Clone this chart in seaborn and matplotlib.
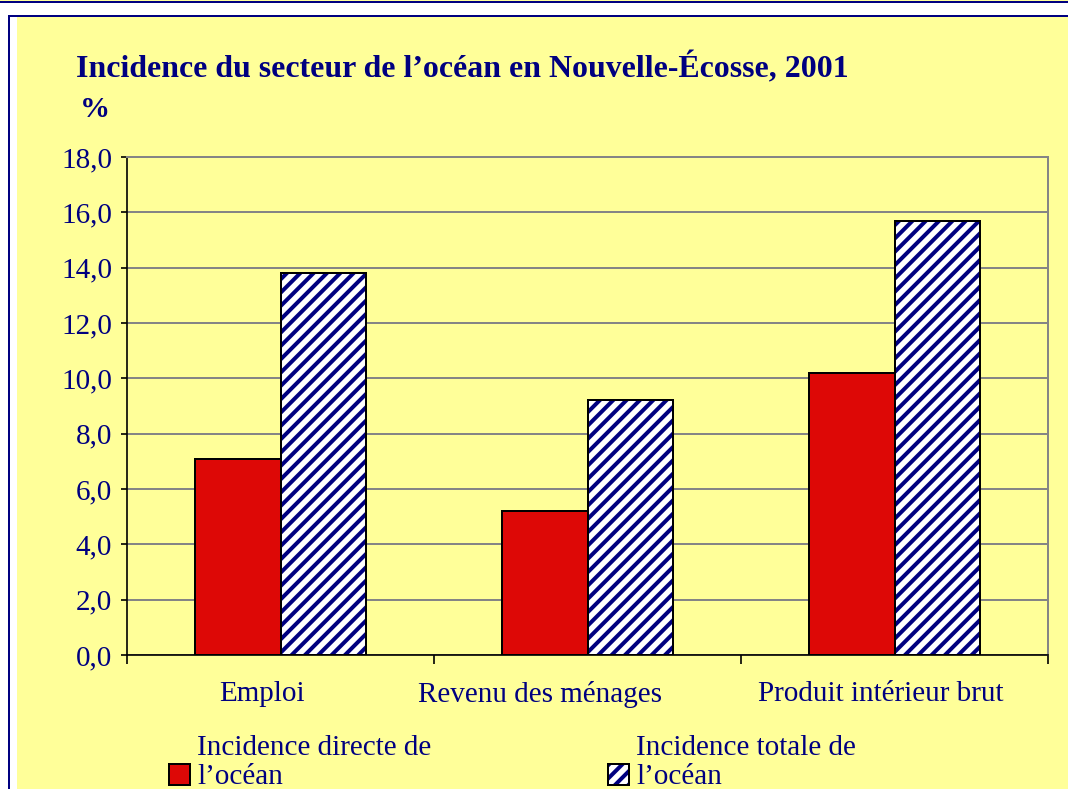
import matplotlib
matplotlib.use("Agg")
import pandas as pd
import matplotlib.pyplot as plt
import matplotlib.colors as mcolors
import matplotlib.transforms as mtransforms
from matplotlib.patches import Rectangle
from matplotlib.lines import Line2D
from matplotlib.ticker import FuncFormatter
from matplotlib.legend_handler import HandlerPatch
import seaborn as sns

# ==============================
# Données
# ==============================
categories = ["Emploi", "Revenu des ménages", "Produit intérieur brut"]
directe = [7.1, 5.2, 10.2]
totale = [13.8, 9.2, 15.7]
series = ["Incidence directe de\nl’océan", "Incidence totale de\nl’océan"]
yticks = [0, 2, 4, 6, 8, 10, 12, 14, 16, 18]

df = pd.DataFrame({
    "categorie": categories * 2,
    "serie": [series[0]] * 3 + [series[1]] * 3,
    "valeur": directe + totale,
})

navy = "#000080"
jaune = "#FFFF99"
rouge = "#DD0806"

sns.set_style("ticks")
plt.rcParams["font.family"] = ["Liberation Serif", "DejaVu Serif"]
plt.rcParams["hatch.linewidth"] = 2.4

W, H = 1068, 789
DPI = 120
fig = plt.figure(figsize=(W / DPI, H / DPI), dpi=DPI, facecolor="white")

# cadre du graphique (fond jaune, bordure bleue)
fig.add_artist(Rectangle((0, 1 - 1.5 / H), 1, 1.5 / H, transform=fig.transFigure,
                         facecolor=jaune, edgecolor="none", zorder=0))
fig.add_artist(Line2D([0, 1], [1 - 2 / H, 1 - 2 / H], transform=fig.transFigure,
                      color=navy, lw=1.2, zorder=0))
fig.add_artist(Rectangle((9 / W, -0.1), 1.2, 1 - 16 / H + 0.1, transform=fig.transFigure,
                         facecolor="white", edgecolor=navy, lw=1.2, zorder=0))
fig.add_artist(Rectangle((17 / W, -0.1), 1.2, 1 - 17 / H + 0.1, transform=fig.transFigure,
                         facecolor=jaune, edgecolor="none", zorder=0))

ax = fig.add_axes([127 / W, 1 - 655 / H, 921 / W, 498 / H])
ax.set_facecolor("none")

sns.barplot(data=df, x="categorie", y="valeur", hue="serie", palette=[rouge, "white"],
            width=0.56, gap=0, edgecolor="black", linewidth=1.2, saturation=1,
            legend=False, ax=ax, zorder=3)

for bar in ax.containers[1]:
    bar.set_hatch("///")
    bar._hatch_color = mcolors.to_rgba(navy)

ax.set_ylim(0, 18)
ax.set_yticks(yticks)
ax.yaxis.set_major_formatter(FuncFormatter(lambda v, p: f"{v:.1f}".replace(".", ",")))
ax.set_axisbelow(True)
ax.yaxis.grid(True, color="#858585", lw=1.2)
ax.set_xlabel("")
ax.set_ylabel("")

for s in ["top", "right"]:
    ax.spines[s].set_color("#858585")
    ax.spines[s].set_linewidth(1.2)
for s in ["left", "bottom"]:
    ax.spines[s].set_color("black")
    ax.spines[s].set_linewidth(1.0)

ax.set_xticks([-0.5, 0.5, 1.5, 2.5], minor=True)
ax.tick_params(axis="x", which="major", length=0, pad=15.5, labelsize=17.5, labelcolor=navy)
ax.tick_params(axis="x", which="minor", length=5.4, width=1, color="black", direction="out")
ax.tick_params(axis="y", length=3.6, width=1, color="black", direction="out", pad=5.4,
               labelsize=17.5, labelcolor=navy)

# décalage des étiquettes de catégorie comme dans l'original (pixels)
decalages = [-18, -48, -14]
for lab, dx in zip(ax.get_xticklabels(), decalages):
    lab.set_transform(lab.get_transform()
                      + mtransforms.ScaledTranslation(dx / DPI, 0, fig.dpi_scale_trans))

# titre
fig.text(76 / W, 1 - 77 / H, "Incidence du secteur de l’océan en Nouvelle-Écosse, 2001",
         fontsize=19.1, fontweight="bold", color=navy, va="baseline")
fig.text(80 / W, 1 - 117 / H, "%", fontsize=18, fontweight="bold", color=navy, va="baseline")


# légende : carré aligné sur la deuxième ligne du texte
def carre_bas(legend, orig_handle, xdescent, ydescent, width, height, fontsize):
    return Rectangle((-xdescent, -ydescent - 7.5), width, height)


handles = [ax.containers[0][0], ax.containers[1][0]]
leg = fig.legend(handles, series, loc="upper left",
                 bbox_to_anchor=(169 / W, 1 - 735 / H), ncol=2, frameon=False,
                 fontsize=17.5, handlelength=0.72, handleheight=0.72, handletextpad=0.25,
                 columnspacing=6.05, borderpad=0, borderaxespad=0, labelcolor=navy,
                 handler_map={Rectangle: HandlerPatch(patch_func=carre_bas)})
for t in leg.get_texts():
    t.set_linespacing(1.15)

fig.savefig("out.png", dpi=DPI)
